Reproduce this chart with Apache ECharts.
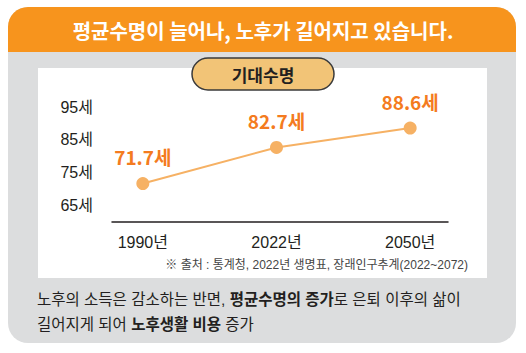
<!DOCTYPE html>
<html>
<head>
<meta charset="utf-8">
<script src="https://cdn.jsdelivr.net/npm/echarts@6/dist/echarts.min.js"></script>
<style>
  html, body { margin: 0; padding: 0; background: #fff; }
  #chart { width: 526px; height: 353px; }
</style>
</head>
<body>
<div id="chart"></div>
<script>
// 데이터
const years = ["1990년", "2022년", "2050년"];
const lifeExpectancy = [71.7, 82.7, 88.6];
const yTicks = [65, 75, 85, 95];

const titleText = "평균수명이 늘어나, 노후가 길어지고 있습니다.";
const badgeText = "기대수명";
const sourceText = "※ 출처 : 통계청, 2022년 생명표, 장래인구추계(2022~2072)";

const font = "'Liberation Sans', 'Noto Sans CJK KR', sans-serif";
const krFont = "'Noto Sans CJK KR', sans-serif";
const orange = "#F7941D";

const chart = echarts.init(document.getElementById("chart"), null, { renderer: "svg" });

const option = {
  animation: false,
  backgroundColor: "#fff",
  graphic: [
    // 카드 배경
    { type: "rect", z: -10, shape: { x: 8, y: 7, width: 508, height: 336, r: 20 }, style: { fill: "#DCDDDE" } },
    { type: "rect", z: -9, shape: { x: 8, y: 7, width: 508, height: 45, r: [20, 20, 0, 0] }, style: { fill: orange } },
    { type: "rect", z: -9, shape: { x: 38, y: 68, width: 449, height: 210 }, style: { fill: "#fff" } },
    {
      type: "text", x: 263, y: 30,
      style: { text: titleText, fill: "#fff", font: "bold 20px " + krFont, align: "center", verticalAlign: "middle" }
    },
    // 기대수명 배지
    { type: "rect", z: 5, shape: { x: 192, y: 58, width: 142, height: 32, r: 16 }, style: { fill: "#F2C477", stroke: "#3a3a3a", lineWidth: 1.5 } },
    {
      type: "text", z: 6, x: 263, y: 74,
      style: { text: badgeText, fill: "#231F20", font: "bold 17px " + krFont, align: "center", verticalAlign: "middle" }
    },
    {
      type: "text", x: 468, y: 265,
      style: { text: sourceText, fill: "#444", font: "12px " + font, align: "right", verticalAlign: "middle" }
    },
    {
      type: "text", x: 37, y: 287,
      style: {
        text: "{n|노후의 소득은 감소하는 반면, }{b|평균수명의 증가}{n|로 은퇴 이후의 삶이}\n{n|길어지게 되어 }{b|노후생활 비용}{n| 증가}",
        rich: {
          n: { fill: "#231F20", font: "15.5px " + font, lineHeight: 25 },
          b: { fill: "#231F20", font: "bold 15.5px " + font, lineHeight: 25 }
        }
      }
    }
  ],
  grid: [
    { left: 76, right: 49, top: 107, bottom: 131 },
    { left: 112, right: 78, top: 107, bottom: 131 }
  ],
  xAxis: [
    {
      type: "category", gridIndex: 0, data: years, boundaryGap: true,
      axisLine: { show: false }, axisTick: { show: false },
      axisLabel: { color: "#231F20", fontSize: 16, fontFamily: font, margin: 12 }
    },
    {
      type: "value", gridIndex: 1, min: 0, max: 1,
      axisLine: { show: true, onZero: false, lineStyle: { color: "#231F20", width: 1.5 } },
      axisTick: { show: false }, axisLabel: { show: false }, splitLine: { show: false }
    }
  ],
  yAxis: [
    { type: "value", gridIndex: 0, min: 60, max: 95, show: false },
    {
      type: "value", gridIndex: 1, min: 60, max: 95,
      axisLine: { show: false }, axisTick: { show: false }, splitLine: { show: false },
      axisLabel: {
        customValues: yTicks, color: "#231F20", fontSize: 16, fontFamily: font, margin: 19,
        formatter: (v) => v + "세"
      }
    }
  ],
  series: [
    {
      type: "line",
      xAxisIndex: 0, yAxisIndex: 0,
      data: lifeExpectancy,
      symbol: "circle",
      symbolSize: 13,
      lineStyle: { color: "#F6B164", width: 2 },
      itemStyle: { color: "#F6B164" },
      label: {
        show: true, position: "top", distance: 11,
        color: "#F47B20", fontSize: 19, fontWeight: "bold", fontFamily: krFont,
        formatter: (p) => p.value + "세"
      }
    }
  ]
};

chart.setOption(option);
</script>
</body>
</html>
